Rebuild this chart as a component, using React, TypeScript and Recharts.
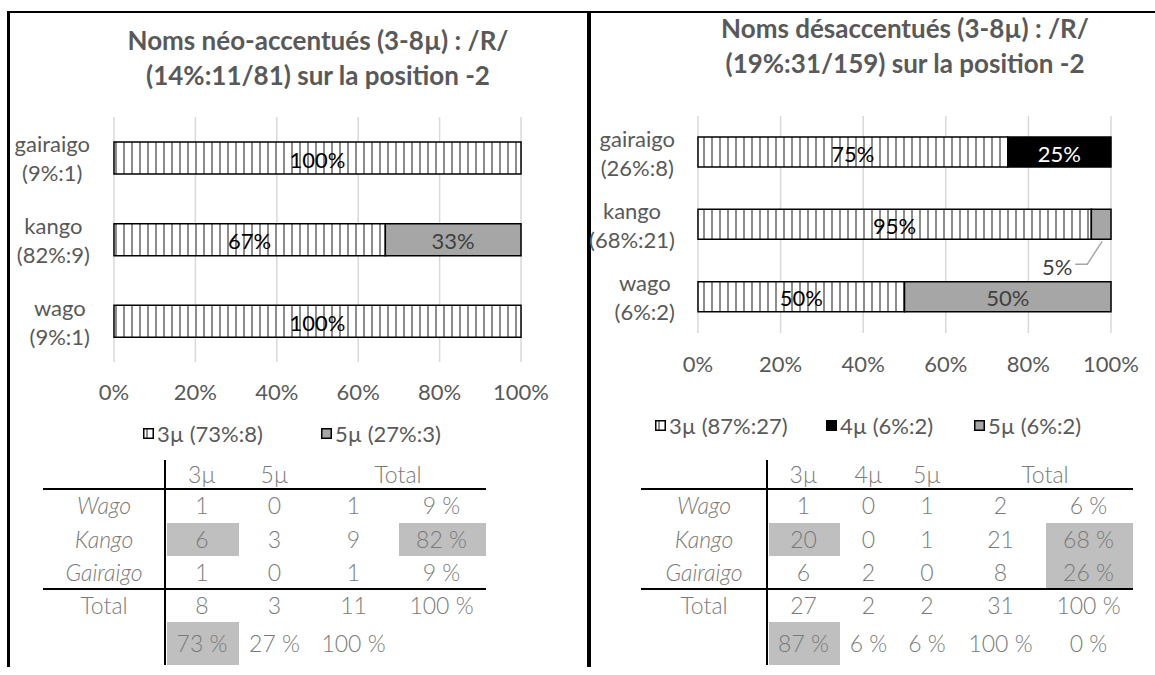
import React from 'react';
import { BarChart, Bar, XAxis, YAxis, CartesianGrid, LabelList } from 'recharts';

// categories, top to bottom in the charts
const categories = ['gairaigo', 'kango', 'wago'];
const leftShares = ['(9%:1)', '(82%:9)', '(9%:1)'];
const rightShares = ['(26%:8)', '(68%:21)', '(6%:2)'];

// counts per syllable length (µ)
const left3 = [1, 6, 1];
const left5 = [0, 3, 0];
const right3 = [6, 20, 1];
const right4 = [2, 0, 0];
const right5 = [0, 1, 1];

const xTicks = [0, 0.2, 0.4, 0.6, 0.8, 1];

const leftTitle = ['Noms néo-accentués (3-8µ) : /R/', '(14%:11/81) sur la position -2'];
const rightTitle = ['Noms désaccentués (3-8µ) : /R/', '(19%:31/159) sur la position -2'];

const leftLegend = ['3µ (73%:8)', '5µ (27%:3)'];
const rightLegend = ['3µ (87%:27)', '4µ (6%:2)', '5µ (6%:2)'];

// tables under the charts
const rowNames = ['Wago', 'Kango', 'Gairaigo'];
const leftHeader = ['3µ', '5µ'];
const leftRows = [
  ['1', '0', '1', '9 %'],
  ['6', '3', '9', '82 %'],
  ['1', '0', '1', '9 %'],
];
const leftTotals = ['8', '3', '11', '100 %'];
const leftPcts = ['73 %', '27 %', '100 %'];
const leftMarked = [[1, 0], [1, 3], [4, 0]];

const rightHeader = ['3µ', '4µ', '5µ'];
const rightRows = [
  ['1', '0', '1', '2', '6 %'],
  ['20', '0', '1', '21', '68 %'],
  ['6', '2', '0', '8', '26 %'],
];
const rightTotals = ['27', '2', '2', '31', '100 %'];
const rightPcts = ['87 %', '6 %', '6 %', '100 %', '0 %'];
const rightMarked = [[1, 0], [1, 4], [2, 4], [4, 0]];

const FONT = 'Lato, "Open Sans", sans-serif';
const TXT = '#595959';
const HATCH = 'url(#hatch)';
const GREY = '#a6a6a6';

let ctx: CanvasRenderingContext2D | null = null;
function textWidth(t: string, font: string) {
  if (!ctx) ctx = document.createElement('canvas').getContext('2d');
  if (!ctx) return t.length * 10;
  ctx.font = font;
  return ctx.measureText(t).width;
}

const makeTick = (shares: string[], rightEdge: number) => (props: any) => {
  const { y, payload, index } = props;
  const font = `22px ${FONT}`;
  const l1 = payload.value;
  const l2 = shares[index];
  const w = Math.max(textWidth(l1, font), textWidth(l2, font));
  const cx = rightEdge - w / 2;
  return (
    <g>
      <text x={cx} y={y - 14} textAnchor="middle" dominantBaseline="central" fill={TXT} fontSize={22} fontFamily={FONT}>{l1}</text>
      <text x={cx} y={y + 15} textAnchor="middle" dominantBaseline="central" fill={TXT} fontSize={22} fontFamily={FONT}>{l2}</text>
    </g>
  );
};

// share of one segment in its row, as the label text
const share = (v: number, total: number) => (v ? `${Math.round((v / total) * 100)}%` : '');

const makeLabel = (color: string) => (props: any) => {
  const vb = props.viewBox || {};
  const x = vb.x ?? props.x;
  const y = vb.y ?? props.y;
  const width = vb.width ?? props.width;
  const height = vb.height ?? props.height;
  const pct = props.value;
  if (!pct) return null;
  if (width < 30) {
    const cx = x + width / 2;
    const by = y + height;
    return (
      <g>
        <path d={`M${cx + 1},${by + 2} L${cx - 14},${by + 25} L${cx - 26},${by + 25}`} fill="none" stroke="#a6a6a6" strokeWidth={1.5} />
        <text x={cx - 44} y={by + 27} textAnchor="middle" dominantBaseline="central" fill="#404040" fontSize={22} fontFamily={FONT}>{pct}</text>
      </g>
    );
  }
  return (
    <text x={x + width / 2} y={y + height / 2 + 1} textAnchor="middle" dominantBaseline="central" fill={color} fontSize={22} fontFamily={FONT}>{pct}</text>
  );
};

function Swatch({ fill }: { fill: string }) {
  return (
    <svg width={11} height={11} style={{ display: 'block' }}>
      <rect x={0.75} y={0.75} width={9.5} height={9.5} fill={fill} stroke="#000" strokeWidth={1.5} />
    </svg>
  );
}

function Legend({ items, fills, xs, y }: { items: string[]; fills: string[]; xs: number[]; y: number }) {
  return (
    <>
      {items.map((t, i) => (
        <div key={t} style={{ position: 'absolute', left: xs[i], top: y - 13, height: 26, display: 'flex', alignItems: 'center', gap: 3, whiteSpace: 'nowrap', font: `22px ${FONT}`, color: TXT }}>
          <Swatch fill={fills[i]} />
          <span>{t}</span>
        </div>
      ))}
    </>
  );
}

function Title({ lines, cx, top }: { lines: string[]; cx: number; top: number }) {
  return (
    <div style={{ position: 'absolute', left: cx - 300, top, width: 600, textAlign: 'center', font: `bold 26px/35px ${FONT}`, color: TXT }}>
      {lines.map((l) => <div key={l}>{l}</div>)}
    </div>
  );
}

// rows: 0-2 data, 3 total, 4 percentages
const rowTops = [489, 523, 556, 589, 622];
const rowBottoms = [523, 556, 589, 622, 665];

function DataTable(props: {
  x0: number; edges: number[]; header: string[]; rows: string[][]; totals: string[]; pcts: string[]; marked: number[][];
}) {
  const { x0, edges, header, rows, totals, pcts, marked } = props;
  const xEnd = edges[edges.length - 1];
  const n = edges.length - 1;
  const cell = (t: string, l: number, r: number, yc: number, italic = false, key?: string) => (
    <div key={key} style={{ position: 'absolute', left: l, width: r - l, top: yc - 15, height: 30, lineHeight: '30px', textAlign: 'center', font: `${italic ? 'italic ' : ''}300 23px ${FONT}`, color: '#7a7a7a', whiteSpace: 'nowrap' }}>{t}</div>
  );
  const mid = (r: number) => (rowTops[r] + rowBottoms[r]) / 2;
  const all = [...rows, totals, pcts];
  return (
    <>
      {marked.map(([r, c]) => (
        <div key={`m${r}-${c}`} style={{ position: 'absolute', left: edges[c] + 2, width: edges[c + 1] - edges[c] - 2, top: rowTops[r], height: rowBottoms[r] - rowTops[r], background: '#bfbfbf' }} />
      ))}
      {header.map((h, c) => cell(h, edges[c], edges[c + 1], 475, false, `h${c}`))}
      {cell('Total', edges[n - 2], xEnd, 475, false, 'ht')}
      {rowNames.map((r, i) => cell(r, x0, edges[0], mid(i), true, `n${i}`))}
      {cell('Total', x0, edges[0], mid(3), false, 'nt')}
      {all.map((row, r) => row.map((t, c) => cell(t, edges[c], edges[c + 1], mid(r), false, `c${r}-${c}`)))}
      <div style={{ position: 'absolute', left: edges[0] - 1, top: 460, width: 2, height: 205, background: '#000' }} />
      <div style={{ position: 'absolute', left: x0, top: 488, width: xEnd - x0, height: 2, background: '#000' }} />
      <div style={{ position: 'absolute', left: x0, top: 588, width: xEnd - x0, height: 2, background: '#000' }} />
    </>
  );
}

const pctFmt = (v: number) => `${Math.round(v * 100)}%`;

export default function App() {
  const leftData = categories.map((c, i) => {
    const t = left3[i] + left5[i];
    return { name: c, m3: left3[i], m5: left5[i], p3: share(left3[i], t), p5: share(left5[i], t) };
  });
  const rightData = categories.map((c, i) => {
    const t = right3[i] + right4[i] + right5[i];
    return {
      name: c, m3: right3[i], m4: right4[i], m5: right5[i],
      p3: share(right3[i], t), p4: share(right4[i], t), p5: share(right5[i], t),
    };
  });
  const tickStyle = { fill: TXT, fontSize: 22, fontFamily: FONT };

  return (
    <div style={{ position: 'absolute', left: 0, top: 0, width: 1155, height: 675, background: '#fff', overflow: 'hidden', fontFamily: FONT }}>
      <svg width={0} height={0} style={{ position: 'absolute' }}>
        <defs>
          <pattern id="hatch" width={8} height={8} patternUnits="userSpaceOnUse">
            <rect width={8} height={8} fill="#fff" />
            <line x1={4} y1={0} x2={4} y2={8} stroke="#707070" strokeWidth={1.6} />
          </pattern>
        </defs>
      </svg>

      {/* frame */}
      <div style={{ position: 'absolute', left: 7, top: 11, width: 1148, height: 2, background: '#000' }} />
      <div style={{ position: 'absolute', left: 7, top: 11, width: 3, height: 656, background: '#000' }} />
      <div style={{ position: 'absolute', left: 587, top: 11, width: 4, height: 656, background: '#000' }} />

      {/* left panel */}
      <Title lines={leftTitle} cx={318} top={23} />
      <div style={{ position: 'absolute', left: 0, top: 0 }}>
        <BarChart width={580} height={420} data={leftData} layout="vertical" stackOffset="expand" barSize={32}
          margin={{ top: 117, right: 59, bottom: 18, left: 14 }}>
          <CartesianGrid horizontal={false} stroke="#d9d9d9" strokeWidth={1.5} />
          <XAxis type="number" domain={[0, 1]} ticks={xTicks} tickFormatter={pctFmt} axisLine={false} tickLine={false}
            tickSize={0} tickMargin={22} height={40} tick={tickStyle} interval={0} />
          <YAxis type="category" dataKey="name" width={100} axisLine={false} tickLine={false} tick={makeTick(leftShares, 90)} />
          <Bar dataKey="m3" stackId="a" fill={HATCH} stroke="#000" strokeWidth={1.5} isAnimationActive={false}>
            <LabelList dataKey="p3" content={makeLabel('#000')} />
          </Bar>
          <Bar dataKey="m5" stackId="a" fill={GREY} stroke="#000" strokeWidth={1.5} isAnimationActive={false}>
            <LabelList dataKey="p5" content={makeLabel('#404040')} />
          </Bar>
        </BarChart>
      </div>
      <Legend items={leftLegend} fills={[HATCH, GREY]} xs={[143, 321]} y={433} />
      <DataTable x0={43} edges={[165, 239, 310, 397, 486]} header={leftHeader} rows={leftRows} totals={leftTotals} pcts={leftPcts} marked={leftMarked} />

      {/* right panel */}
      <Title lines={rightTitle} cx={905} top={11} />
      <div style={{ position: 'absolute', left: 580, top: 0 }}>
        <BarChart width={575} height={420} data={rightData} layout="vertical" stackOffset="expand" barSize={30}
          margin={{ top: 116, right: 44, bottom: 47, left: 18 }}>
          <CartesianGrid horizontal={false} stroke="#d9d9d9" strokeWidth={1.5} />
          <XAxis type="number" domain={[0, 1]} ticks={xTicks} tickFormatter={pctFmt} axisLine={false} tickLine={false}
            tickSize={0} tickMargin={23} height={40} tick={tickStyle} interval={0} />
          <YAxis type="category" dataKey="name" width={100} axisLine={false} tickLine={false} tick={makeTick(rightShares, 95)} />
          <Bar dataKey="m3" stackId="a" fill={HATCH} stroke="#000" strokeWidth={1.5} isAnimationActive={false}>
            <LabelList dataKey="p3" content={makeLabel('#000')} />
          </Bar>
          <Bar dataKey="m4" stackId="a" fill="#000" stroke="#000" strokeWidth={1.5} isAnimationActive={false}>
            <LabelList dataKey="p4" content={makeLabel('#fff')} />
          </Bar>
          <Bar dataKey="m5" stackId="a" fill={GREY} stroke="#000" strokeWidth={1.5} isAnimationActive={false}>
            <LabelList dataKey="p5" content={makeLabel('#404040')} />
          </Bar>
        </BarChart>
      </div>
      <Legend items={rightLegend} fills={[HATCH, '#000', GREY]} xs={[655, 826, 974]} y={425} />
      <DataTable x0={641} edges={[767, 840, 897, 957, 1044, 1133]} header={rightHeader} rows={rightRows} totals={rightTotals} pcts={rightPcts} marked={rightMarked} />
    </div>
  );
}
